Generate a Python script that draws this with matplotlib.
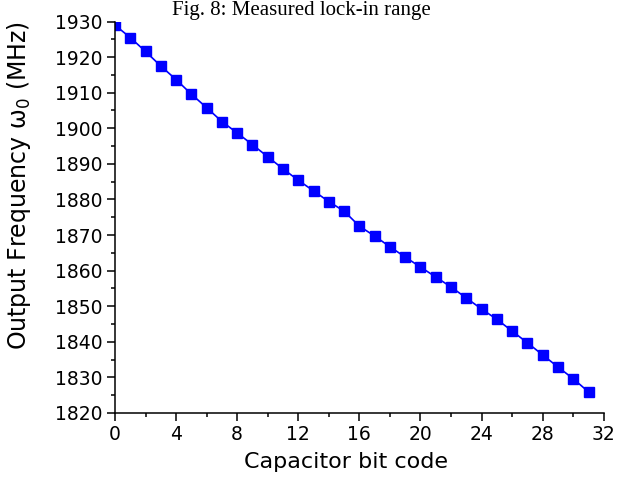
import matplotlib
matplotlib.use("Agg")
import matplotlib.pyplot as plt
from matplotlib.ticker import MultipleLocator

# capacitor bit code vs measured output frequency (MHz)
codes = list(range(32))
freq = [1929.0, 1925.5, 1921.6, 1917.5, 1913.7, 1909.6, 1905.8, 1901.9,
        1898.7, 1895.4, 1892.0, 1888.6, 1885.4, 1882.4, 1879.4, 1876.7,
        1872.5, 1869.7, 1866.7, 1863.8, 1861.0, 1858.2, 1855.4, 1852.3,
        1849.2, 1846.3, 1843.0, 1839.7, 1836.3, 1832.9, 1829.6, 1825.9]

plt.rcParams['font.family'] = ['DejaVu Sans']

fig = plt.figure(figsize=(6.18, 4.79), dpi=100)
ax = fig.add_axes([0.186, 0.138, 0.791, 0.817])

ax.plot(codes, freq, color='blue', lw=1.2, marker='s', ms=7.5,
        markerfacecolor='blue', markeredgecolor='blue')

ax.set_xlim(0, 32)
ax.set_ylim(1820, 1930)
ax.xaxis.set_major_locator(MultipleLocator(4))
ax.xaxis.set_minor_locator(MultipleLocator(2))
ax.yaxis.set_major_locator(MultipleLocator(10))
ax.yaxis.set_minor_locator(MultipleLocator(5))

for s in ['top', 'right']:
    ax.spines[s].set_visible(False)
for s in ['left', 'bottom']:
    ax.spines[s].set_linewidth(1.1)

ax.tick_params(which='major', direction='out', length=6, width=1.1, labelsize=13.5, pad=3)
ax.tick_params(which='minor', direction='out', length=3, width=1.1)

ax.set_xlabel('Capacitor bit code', fontsize=16)
ax.xaxis.set_label_coords(0.472, -0.100)
ax.set_ylabel(r'Output Frequency $\mathregular{\omega_0}$ (MHz)', fontsize=17)
ax.yaxis.set_label_coords(-0.168, 0.58)

# title sits right at the top edge
fig.text(0.487, 1 - 15 / 479, 'Fig. 8: Measured lock-in range', ha='center', va='baseline',
         fontsize=15, family='Liberation Serif')

fig.savefig('out.png', dpi=100)
